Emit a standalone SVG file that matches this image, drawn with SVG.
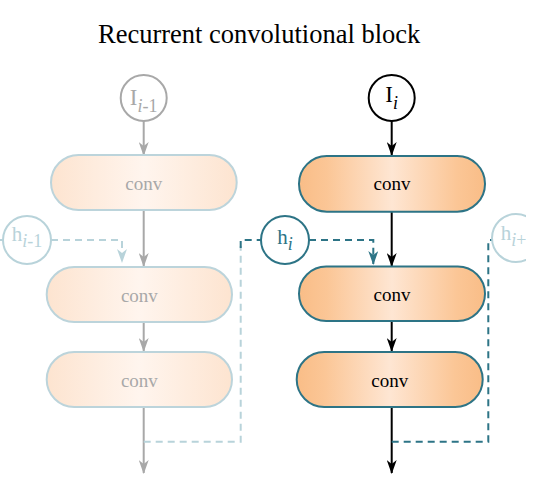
<svg xmlns="http://www.w3.org/2000/svg" width="540" height="500" viewBox="0 0 540 500">
<style>
.title{font-family:"Liberation Serif","Times New Roman",serif;font-size:26.5px;fill:#000}
.lbl{font-family:"Liberation Serif","Times New Roman",serif;font-size:19px;text-anchor:middle}
.sym{font-family:"Liberation Serif","Times New Roman",serif;text-anchor:middle}
.sub{font-style:italic;font-size:18px}
.nodeA{fill:url(#gA);stroke:#2d7486;stroke-width:2}
.nodeF{fill:url(#gF);stroke:#bcd4db;stroke-width:2}
.solidK{fill:none;stroke:#000;stroke-width:2}
.solidG{fill:none;stroke:#a8a8a8;stroke-width:2}
.dashT{fill:none;stroke:#2d7486;stroke-width:2;stroke-dasharray:7 5}
.dashL{fill:none;stroke:#b8d3da;stroke-width:2;stroke-dasharray:7 5}
</style>
<defs>
<linearGradient id="gA" x1="0" y1="0" x2="1" y2="0">
<stop offset="0" stop-color="#f9bd87"/>
<stop offset="0.15" stop-color="#fbc696"/>
<stop offset="0.5" stop-color="#fee6d3"/>
<stop offset="0.85" stop-color="#fbc696"/>
<stop offset="1" stop-color="#f9bd87"/>
</linearGradient>
<linearGradient id="gF" x1="0" y1="0" x2="1" y2="0">
<stop offset="0" stop-color="#fde4d0"/>
<stop offset="0.5" stop-color="#fff5ee"/>
<stop offset="1" stop-color="#fde4d0"/>
</linearGradient>
<clipPath id="edge"><rect x="0" y="0" width="526" height="500"/></clipPath>
<marker id="aK" viewBox="0 0 14 10" markerWidth="14" markerHeight="10" refX="13" refY="5" orient="auto" markerUnits="userSpaceOnUse"><path d="M0,0 L14,5 L0,10 L4,5 z" fill="#000"/></marker>
<marker id="aG" viewBox="0 0 14 10" markerWidth="14" markerHeight="10" refX="13" refY="5" orient="auto" markerUnits="userSpaceOnUse"><path d="M0,0 L14,5 L0,10 L4,5 z" fill="#a8a8a8"/></marker>
<marker id="aT" viewBox="0 0 14 10" markerWidth="14" markerHeight="10" refX="13" refY="5" orient="auto" markerUnits="userSpaceOnUse"><path d="M0,0 L14,5 L0,10 L4,5 z" fill="#2d7486"/></marker>
<marker id="aL" viewBox="0 0 14 10" markerWidth="14" markerHeight="10" refX="13" refY="5" orient="auto" markerUnits="userSpaceOnUse"><path d="M0,0 L14,5 L0,10 L4,5 z" fill="#b8d3da"/></marker>
</defs>

<text class="title" x="98" y="43">Recurrent convolutional block</text>

<g id="connectors">
<path class="solidG" d="M143.7,121 V155" marker-end="url(#aG)"/>
<path class="solidG" d="M143.7,210 V266" marker-end="url(#aG)"/>
<path class="solidG" d="M143.7,322 V351" marker-end="url(#aG)"/>
<path class="solidG" d="M143.7,407 V473" marker-end="url(#aG)"/>
<path class="dashL" d="M0,240 H3"/>
<path class="dashL" d="M51,240 H122 V262" marker-end="url(#aL)"/>
<path class="dashL" d="M143.7,441.7 H240.7 V246"/>
<path class="dashT" d="M240.7,248 V240 H262"/>

<path class="solidK" d="M391.7,121 V155" marker-end="url(#aK)"/>
<path class="solidK" d="M391.7,211.7 V266" marker-end="url(#aK)"/>
<path class="solidK" d="M391.7,321 V351" marker-end="url(#aK)"/>
<path class="solidK" d="M391.7,407 V473" marker-end="url(#aK)"/>
<path class="dashT" d="M309,240 H373.3 V264" marker-end="url(#aT)"/>
<path class="dashT" d="M391.7,441.7 H488.3 V240 H492"/>
</g>

<g id="I_prev">
<circle cx="143.7" cy="98" r="23" fill="#fff" stroke="#a8a8a8" stroke-width="2"/>
<text class="sym" x="143.7" y="105" font-size="23" fill="#a8a8a8">I<tspan class="sub" dy="6.5">i</tspan><tspan font-size="18" dy="0">-1</tspan></text>
</g>
<g id="conv_prev_1">
<rect class="nodeF" x="51" y="155" width="185.7" height="55" rx="27.5"/>
<text class="lbl" x="143.8" y="190" fill="#a8a8a8">conv</text>
</g>
<g id="conv_prev_2">
<rect class="nodeF" x="46.7" y="267" width="185.3" height="55" rx="27.5"/>
<text class="lbl" x="139.4" y="302" fill="#a8a8a8">conv</text>
</g>
<g id="conv_prev_3">
<rect class="nodeF" x="46.7" y="352" width="185.3" height="55" rx="27.5"/>
<text class="lbl" x="139.4" y="387" fill="#a8a8a8">conv</text>
</g>
<g id="h_prev">
<circle cx="27" cy="240" r="24" fill="#fff" stroke="#b8d3da" stroke-width="2"/>
<text class="sym" x="27" y="241" font-size="21" fill="#b8d3da">h<tspan class="sub" dy="5.5">i</tspan><tspan font-size="18">-1</tspan></text>
</g>

<g id="I_cur">
<circle cx="391.7" cy="98" r="23" fill="#fff" stroke="#000" stroke-width="2"/>
<text class="sym" x="391.7" y="102" font-size="23" fill="#000">I<tspan class="sub" dy="6.5">i</tspan></text>
</g>
<g id="conv_cur_1">
<rect class="nodeA" x="299" y="156" width="186" height="55.7" rx="27.8"/>
<text class="lbl" x="392" y="190" fill="#000">conv</text>
</g>
<g id="conv_cur_2">
<rect class="nodeA" x="299" y="266.5" width="186" height="54.5" rx="27.2"/>
<text class="lbl" x="392" y="301" fill="#000">conv</text>
</g>
<g id="conv_cur_3">
<rect class="nodeA" x="296.7" y="352" width="186" height="55" rx="27.5"/>
<text class="lbl" x="389.7" y="387" fill="#000">conv</text>
</g>
<g id="h_cur">
<circle cx="285" cy="240" r="24" fill="#fff" stroke="#2d7486" stroke-width="2"/>
<text class="sym" x="285" y="243.5" font-size="21" fill="#2d7486">h<tspan class="sub" dy="6">i</tspan></text>
</g>
<g id="h_next" clip-path="url(#edge)">
<circle cx="516" cy="238" r="24" fill="#fff" stroke="#b8d3da" stroke-width="2"/>
<text class="sym" x="518" y="240" font-size="21" fill="#b8d3da">h<tspan class="sub" dy="5.5">i</tspan><tspan font-size="18">+1</tspan></text>
</g>
</svg>
